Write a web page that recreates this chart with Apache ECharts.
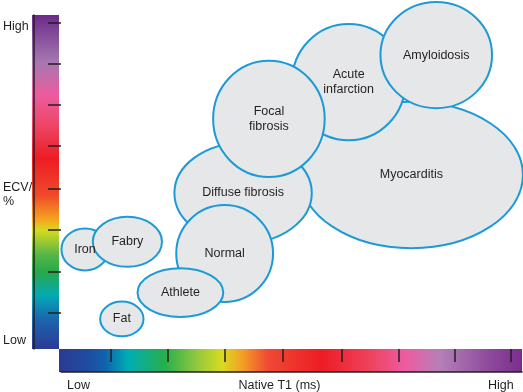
<!DOCTYPE html>
<html>
<head>
<meta charset="utf-8">
<script src="https://cdn.jsdelivr.net/npm/echarts@6/dist/echarts.min.js"></script>
<style>
html,body{margin:0;padding:0;background:#fff;}
#chart{width:523px;height:392px;}
</style>
</head>
<body>
<div id="chart"></div>
<script>
// Conditions (draw order: first = bottom)
const conditions = ['Myocarditis', 'Diffuse fibrosis', 'Acute\ninfarction', 'Focal\nfibrosis', 'Amyloidosis', 'Normal', 'Athlete', 'Iron', 'Fabry', 'Fat'];
// Relative Native T1 centre (0 = low, 100 = high)
const t1Centre = [76.0, 39.5, 62.4, 45.1, 81.4, 35.5, 25.9, 5.2, 14.4, 13.2];
// Relative ECV centre (0 = low, 100 = high)
const ecvCentre = [52.1, 46.7, 79.9, 68.9, 88.0, 28.6, 16.9, 29.8, 32.1, 9.0];
// Half-spread along T1 and ECV
const t1Spread = [24.2, 14.9, 12.3, 12.1, 12.1, 10.5, 9.3, 5.1, 7.5, 4.7];
const ecvSpread = [21.9, 15.0, 17.4, 17.4, 15.9, 14.5, 7.3, 6.3, 7.5, 5.2];

// Scale ticks (same relative positions on both colour bars)
const tickValues = [10.8, 23.1, 35.6, 48.1, 60.9, 73.2, 85.5, 97.6];
// Axis labels
const xLabelValues = [3.8, 47.4, 95.4];
const xLabelTexts = ['Low', 'Native T1 (ms)', 'High'];
const yLabelValues = [2.4, 46.1, 96.4];
const yLabelTexts = ['Low', 'ECV/\n%', 'High'];

const FONT = '"Liberation Sans", Arial, Helvetica, sans-serif';
const TEXT = '#231F20';

const data = conditions.map((n, i) => [t1Centre[i], ecvCentre[i], t1Spread[i], ecvSpread[i], n]);

function pickLabel(values, texts) {
  return function (v, i) {
    let best = 0, d = Infinity;
    values.forEach((x, k) => { if (Math.abs(x - v) < d) { d = Math.abs(x - v); best = k; } });
    return texts[best];
  };
}

const chart = echarts.init(document.getElementById('chart'), null, {renderer: 'canvas'});
chart.setOption({
  animation: false,
  backgroundColor: '#ffffff',
  grid: {left: 59, right: 1, top: 15, bottom: 43},
  xAxis: [{
    type: 'value', min: 0, max: 100, z: 5,
    axisLine: {show: false, onZero: false}, splitLine: {show: false},
    axisTick: {show: true, customValues: tickValues, length: 13, inside: false, lineStyle: {color: TEXT, width: 1.5}},
    axisLabel: {show: true, customValues: xLabelValues, margin: 30, color: TEXT, fontSize: 12.5, fontFamily: FONT,
      formatter: pickLabel(xLabelValues, xLabelTexts)}
  }, {
    type: 'value', min: 0, max: 100, position: 'bottom', offset: 23, z: 5,
    axisLine: {show: true, onZero: false, lineStyle: {color: TEXT, width: 1.5}},
    axisTick: {show: false}, axisLabel: {show: false}, splitLine: {show: false}
  }],
  yAxis: [{
    type: 'value', min: 0, max: 100, z: 5,
    axisLine: {show: false, onZero: false}, splitLine: {show: false},
    axisTick: {show: true, customValues: tickValues, length: 13, inside: false, lineStyle: {color: TEXT, width: 1.5}},
    axisLabel: {show: true, customValues: yLabelValues, margin: 58, align: 'left', color: TEXT, fontSize: 12.5, fontFamily: FONT, lineHeight: 14,
      formatter: pickLabel(yLabelValues, yLabelTexts)}
  }, {
    type: 'value', min: 0, max: 100, position: 'left', offset: 27, z: 5,
    axisLine: {show: true, onZero: false, lineStyle: {color: TEXT, width: 1.5}},
    axisTick: {show: false}, axisLabel: {show: false}, splitLine: {show: false}
  }],
  graphic: {elements: [
    {type: 'rect', z: 1, shape: {x: 32, y: 15, width: 27, height: 334}, style: {fill: {
      type: 'linear', x: 0, y: 0, x2: 0, y2: 1, colorStops: [
        {offset: 0, color: '#6C2A8A'}, {offset: 0.14, color: '#A578B0'}, {offset: 0.24, color: '#EC5C9E'},
        {offset: 0.33, color: '#EE4566'}, {offset: 0.43, color: '#ED1C24'}, {offset: 0.54, color: '#EF4A2A'},
        {offset: 0.61, color: '#F6A01E'}, {offset: 0.645, color: '#D8DA1F'}, {offset: 0.72, color: '#52B548'},
        {offset: 0.77, color: '#27A94A'}, {offset: 0.84, color: '#04A9B5'}, {offset: 0.91, color: '#1B66AE'},
        {offset: 1, color: '#2B3A94'}]}}},
    {type: 'rect', z: 1, shape: {x: 59, y: 349, width: 463, height: 23}, style: {fill: {
      type: 'linear', x: 0, y: 0, x2: 1, y2: 0, colorStops: [
        {offset: 0, color: '#2B3A94'}, {offset: 0.067, color: '#1E4EA0'}, {offset: 0.1, color: '#0F63AC'},
        {offset: 0.149, color: '#00ADB6'}, {offset: 0.229, color: '#27AF4B'}, {offset: 0.294, color: '#8EC640'},
        {offset: 0.352, color: '#D8DB20'}, {offset: 0.395, color: '#F4A025'}, {offset: 0.451, color: '#EF4A34'},
        {offset: 0.568, color: '#ED1C24'}, {offset: 0.676, color: '#EF4461'}, {offset: 0.747, color: '#EE5BA0'},
        {offset: 0.823, color: '#B580B8'}, {offset: 0.927, color: '#8E4B9C'}, {offset: 1, color: '#7A2D8E'}]}}}
  ]},
  series: [{
    type: 'custom',
    xAxisIndex: 0, yAxisIndex: 0,
    clip: false,
    data: data,
    renderItem: function (params, api) {
      const c = api.coord([api.value(0), api.value(1)]);
      const s = api.size([api.value(2), api.value(3)]);
      const name = data[params.dataIndex][4];
      return {
        type: 'group',
        children: [{
          type: 'ellipse',
          z2: params.dataIndex,
          shape: {cx: c[0], cy: c[1], rx: s[0], ry: s[1]},
          style: {fill: '#E6E7E8', stroke: '#1C9AD6', lineWidth: 2}
        }, {
          type: 'text',
          z2: 100,
          style: {text: name, x: c[0], y: c[1], align: 'center', verticalAlign: 'middle',
            fill: TEXT, fontSize: 12.5, fontFamily: FONT, lineHeight: 15}
        }]
      };
    }
  }]
});
</script>
</body>
</html>
